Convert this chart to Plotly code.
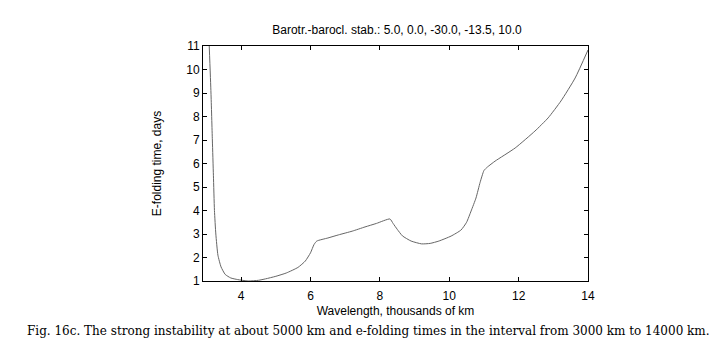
import plotly.graph_objects as go

wavelength = [3.08, 3.13, 3.17, 3.2, 3.23, 3.27, 3.33, 3.42, 3.54, 3.7, 3.9, 4.2, 4.5, 4.7,
              5.0, 5.3, 5.64, 5.85, 6.0, 6.1, 6.18, 6.5, 6.8, 7.2, 7.57, 7.9, 8.29, 8.38,
              8.5, 8.65, 8.9, 9.2, 9.45, 9.7, 10.05, 10.34, 10.5, 10.63, 10.77, 10.89,
              11.0, 11.1, 11.32, 11.9, 12.47, 12.85, 13.22, 13.63, 14.0]
efold_days = [11.0, 9.0, 7.0, 5.5, 4.0, 3.0, 2.1, 1.6, 1.28, 1.13, 1.06, 1.0, 1.03, 1.09,
              1.2, 1.34, 1.58, 1.85, 2.2, 2.55, 2.7, 2.83, 2.96, 3.12, 3.3, 3.45, 3.64, 3.45,
              3.2, 2.92, 2.7, 2.58, 2.6, 2.7, 2.91, 3.17, 3.5, 3.98, 4.53, 5.2,
              5.7, 5.85, 6.1, 6.66, 7.38, 7.94, 8.66, 9.64, 10.83]
x_ticks = [4, 6, 8, 10, 12, 14]
y_ticks = [1, 2, 3, 4, 5, 6, 7, 8, 9, 10, 11]

title_text = "Barotr.-barocl. stab.: 5.0, 0.0, -30.0, -13.5, 10.0"
x_title = "Wavelength, thousands of km"
y_title = "E-folding time, days"
caption = ("Fig. 16c. The strong instability at about 5000 km and e-folding times "
           "in the interval from 3000 km to 14000 km.")

sans = "Liberation Sans, Arial"

fig = go.Figure()
fig.add_trace(go.Scatter(x=wavelength, y=efold_days, mode="lines",
                         line=dict(color="#666666", width=1, shape="spline", smoothing=0.5),
                         showlegend=False, hoverinfo="skip"))

axis_common = dict(showline=True, linecolor="black", linewidth=1, mirror="ticks",
                   ticks="inside", ticklen=4, tickcolor="black", showgrid=False,
                   zeroline=False, tickfont=dict(family=sans, size=12, color="black"))

fig.update_layout(
    width=719, height=346,
    margin=dict(l=195, r=139, t=38, b=73),
    paper_bgcolor="white", plot_bgcolor="white",
    title=dict(text=title_text, x=(389 / 719), xanchor="center", y=1 - 22 / 346, yanchor="middle",
               font=dict(family=sans, size=12, color="black")),
    xaxis=dict(range=[2.9, 14], tickvals=x_ticks, ticklabelstandoff=4,
               title=dict(text=x_title, standoff=4,
                          font=dict(family=sans, size=12, color="black")),
               **axis_common),
    yaxis=dict(range=[1, 11], tickvals=y_ticks,
               title=dict(text=y_title, standoff=22,
                          font=dict(family=sans, size=12, color="black")),
               **axis_common),
    annotations=[dict(text=caption, xref="paper", yref="paper",
                      x=(360 - 195) / 385, y=(273 - 323) / 235,
                      xanchor="center", yanchor="middle", showarrow=False,
                      font=dict(family="DejaVu Serif", size=12, color="black"))],
)

fig.write_html("out.html")
